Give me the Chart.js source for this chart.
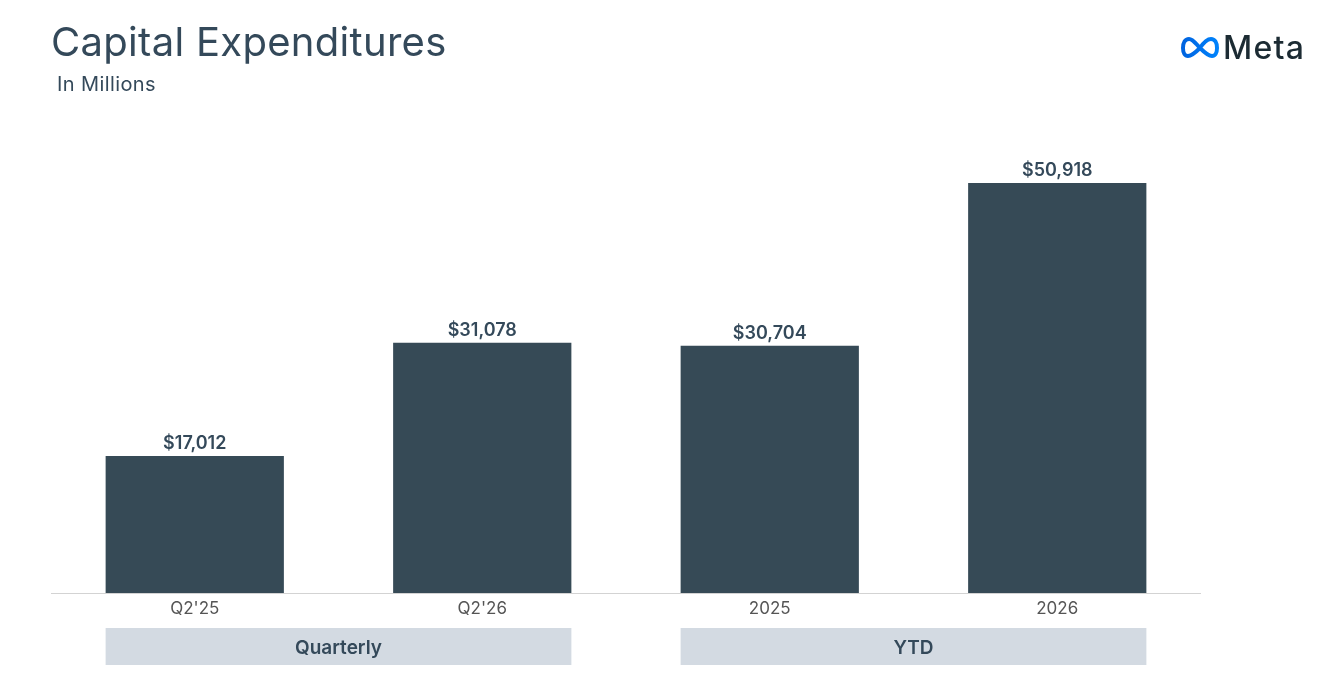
<!DOCTYPE html>
<html>
<head>
<meta charset="utf-8">
<script src="https://cdn.jsdelivr.net/npm/chart.js@4/dist/chart.umd.min.js"></script>
<style>
  html, body { margin:0; padding:0; background:#fff; }
  #wrap { position:relative; width:1330px; height:700px; overflow:hidden; }
  #c { position:absolute; left:0; top:0; }
  .title { position:absolute; left:51px; top:18px; font-family:Inter, "Noto Sans", sans-serif; font-size:40px; color:#34495a; font-weight:400; letter-spacing:0.3px; line-height:48px; }
  .sub { position:absolute; left:57px; top:72px; font-family:Inter, "Noto Sans", sans-serif; font-size:20px; color:#34495a; letter-spacing:0.4px; line-height:24px; }
  .logo { position:absolute; left:1180px; top:28px; display:flex; align-items:center; }
  .logo span { font-family:Inter, "Noto Sans", sans-serif; font-size:32px; color:#1c2b33; font-weight:500; margin-left:3px; letter-spacing:1.2px; }
</style>
</head>
<body>
<div id="wrap">
  <canvas id="c" width="1330" height="700"></canvas>
  <div class="title">Capital Expenditures</div>
  <div class="sub">In Millions</div>
  <div class="logo">
    <svg width="40" height="28" viewBox="0 0 40 26">
      <defs><linearGradient id="g" x1="0" x2="1" y1="0" y2="0"><stop offset="0" stop-color="#0064e0"/><stop offset="1" stop-color="#0082fb"/></linearGradient></defs>
      <path d="M20,13 C24,7 27,4 31,4 C35,4 37,8 37,13 C37,18 35,21 32,21 C28,21 24,17 20,13 C16,9 13,4 9,4 C5,4 3,8 3,13 C3,18 5,21 8,21 C12,21 16,17 20,13" fill="none" stroke="url(#g)" stroke-width="4"/>
    </svg>
    <span>Meta</span>
  </div>
</div>
<script>
const categories = ["Q2'25", "Q2'26", "2025", "2026"];
const capex = [17012, 31078, 30704, 50918];
const groupLabels = ["Quarterly", "YTD"];
const groupRanges = [[0, 1], [2, 3]];

const fmt = v => "$" + v.toLocaleString("en-US");

const labelPlugin = {
  id: 'labels',
  afterDatasetsDraw(chart) {
    const ctx = chart.ctx;
    const meta = chart.getDatasetMeta(0);
    ctx.save();
    ctx.font = "600 18px Inter, 'Noto Sans', sans-serif";
    ctx.fillStyle = "#34495a";
    ctx.textAlign = "center";
    ctx.textBaseline = "bottom";
    meta.data.forEach((bar, i) => {
      ctx.fillText(fmt(capex[i]), bar.x, bar.y - 3);
    });
    const a = chart.chartArea;
    ctx.strokeStyle = "#d3d3d3";
    ctx.lineWidth = 1.2;
    ctx.beginPath();
    ctx.moveTo(a.left, a.bottom + 0.5);
    ctx.lineTo(a.right, a.bottom + 0.5);
    ctx.stroke();
    groupRanges.forEach((r, gi) => {
      const b0 = meta.data[r[0]], b1 = meta.data[r[1]];
      const x0 = b0.x - b0.width / 2, x1 = b1.x + b1.width / 2;
      ctx.fillStyle = "#d3dae2";
      ctx.fillRect(x0, a.bottom + 35, x1 - x0, 37);
      ctx.fillStyle = "#34495a";
      ctx.font = "600 19px Inter, 'Noto Sans', sans-serif";
      ctx.textBaseline = "middle";
      ctx.fillText(groupLabels[gi], (x0 + x1) / 2, a.bottom + 55);
    });
    ctx.restore();
  }
};

new Chart(document.getElementById('c'), {
  type: 'bar',
  data: {
    labels: categories,
    datasets: [{
      data: capex,
      backgroundColor: '#364a56',
      categoryPercentage: 1,
      barPercentage: 0.62
    }]
  },
  options: {
    responsive: false,
    animation: false,
    devicePixelRatio: 1,
    layout: { padding: { left: 51, right: 129, top: 142, bottom: 0 } },
    plugins: { legend: { display: false }, tooltip: { enabled: false } },
    scales: {
      y: { display: false, min: 0, max: 56000 },
      x: {
        grid: { display: false },
        border: { display: false },
        ticks: { color: '#555', font: { family: "Inter, 'Noto Sans', sans-serif", size: 17 }, padding: -2 },
        afterFit(scale) { scale.height = 107; }
      }
    }
  },
  plugins: [labelPlugin]
});
</script>
</body>
</html>
